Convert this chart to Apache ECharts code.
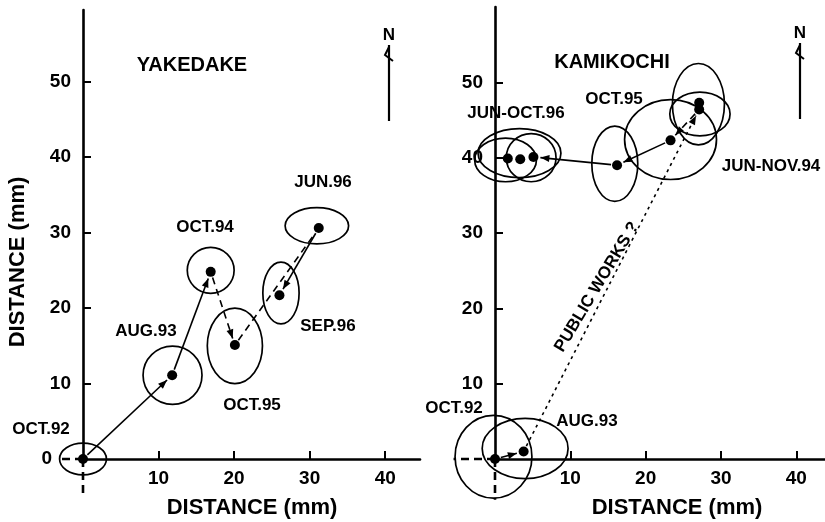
<!DOCTYPE html>
<html>
<head>
<meta charset="utf-8">
<script src="https://cdn.jsdelivr.net/npm/echarts@6/dist/echarts.min.js"></script>
</head>
<body style="margin:0">
<div id="container" style="width:825px;height:522px"></div>
<script>
// YAKEDAKE: displacement of the station (mm), east and north
var yakeNames = ['OCT.92', 'AUG.93', 'OCT.94', 'OCT.95', 'JUN.96', 'SEP.96'];
var yakePoints = [[0, 0], [11.8, 11.1], [16.9, 24.8], [20.1, 15.1], [31.2, 30.6], [26.0, 21.7]];
// error ellipses: centre x, centre y, half width, half height (mm)
var yakeEllipses = [[0, 0, 3.1, 2.1], [11.85, 11.1, 3.9, 3.85], [16.9, 25.0, 3.1, 3.05],
  [20.1, 15.0, 3.65, 5.0], [26.2, 22.0, 2.4, 4.1], [30.95, 30.9, 4.2, 2.4]];
// links between points: from, to, arrow head (1/0)
var yakeSolid = [[0, 1, 1], [1, 2, 1], [4, 5, 1]];
var yakeDashed = [[2, 3, 1], [3, 4, 0]];

// KAMIKOCHI
var kamiPoints = [[0, 0], [3.8, 1.0], [27.1, 47.3], [27.1, 46.4], [23.3, 42.3],
  [16.2, 39.0], [5.1, 40.1], [3.35, 39.8], [1.7, 39.9]];
var kamiEllipses = [[-0.2, 0.3, 5.1, 5.5], [4.0, 1.4, 5.7, 4.0], [23.3, 42.4, 6.1, 5.3],
  [27.0, 47.1, 3.45, 5.4], [27.2, 45.8, 4.0, 2.9], [15.9, 39.2, 3.05, 5.0],
  [1.4, 39.7, 4.1, 2.9], [3.25, 40.6, 5.5, 3.25], [4.8, 40.0, 3.3, 3.2]];
var kamiSolid = [[0, 1, 1], [4, 5, 1], [5, 6, 1]];
var kamiDashed = [[3, 4, 1]];
var kamiDotted = [[1, 3, 1]];

var yTicks = [0, 10, 20, 30, 40, 50];
var xTicks = [10, 20, 30, 40];

var FONT = '"Liberation Sans", Arial, sans-serif';

function linkData(points, links) {
  return links.map(function (l) {
    return [points[l[0]][0], points[l[0]][1], points[l[1]][0], points[l[1]][1], l[2]];
  });
}

function ellipseItem(params, api) {
  var cx = api.value(0), cy = api.value(1);
  var c = api.coord([cx, cy]);
  var e = api.coord([cx + api.value(2), cy + api.value(3)]);
  return {
    type: 'ellipse',
    shape: { cx: c[0], cy: c[1], rx: Math.abs(e[0] - c[0]), ry: Math.abs(e[1] - c[1]) },
    style: { fill: 'none', stroke: '#000', lineWidth: 1.7 }
  };
}

function arrowItem(dash) {
  return function (params, api) {
    var a = api.coord([api.value(0), api.value(1)]);
    var b = api.coord([api.value(2), api.value(3)]);
    var dx = b[0] - a[0], dy = b[1] - a[1];
    var len = Math.sqrt(dx * dx + dy * dy);
    var ux = dx / len, uy = dy / len;
    var s = [a[0] + ux * 6, a[1] + uy * 6];
    var e = [b[0] - ux * 7, b[1] - uy * 7];
    var kids = [{
      type: 'line',
      shape: { x1: s[0], y1: s[1], x2: e[0], y2: e[1] },
      style: { stroke: '#000', lineWidth: 1.6, lineDash: dash }
    }];
    if (api.value(4)) {
      var bx = e[0] - ux * 9, by = e[1] - uy * 9;
      kids.push({
        type: 'polygon',
        shape: { points: [[e[0], e[1]], [bx - uy * 3.5, by + ux * 3.5], [bx + uy * 3.5, by - ux * 3.5]] },
        style: { fill: '#000' }
      });
    }
    return { type: 'group', children: kids };
  };
}

function axisX(idx, max) {
  return {
    type: 'value', gridIndex: idx, min: 0, max: max,
    splitLine: { show: false },
    axisLine: { onZero: false, lineStyle: { color: '#000', width: 2.6 } },
    axisTick: { show: true, inside: true, length: 8, customValues: xTicks, lineStyle: { color: '#000', width: 2 } },
    axisLabel: { customValues: xTicks, margin: 10, color: '#000', fontSize: 19, fontWeight: 'bold', fontFamily: FONT }
  };
}

function axisY(idx, max, labels) {
  return {
    type: 'value', gridIndex: idx, min: 0, max: max,
    splitLine: { show: false },
    axisLine: { onZero: false, lineStyle: { color: '#000', width: 2.6 } },
    axisTick: { show: true, inside: true, length: 8, customValues: yTicks.slice(1), lineStyle: { color: '#000', width: 2 } },
    axisLabel: {
      customValues: labels, margin: 12, color: '#000', fontSize: 19, fontWeight: 'bold', fontFamily: FONT,
      formatter: function (v) { return v === 0 ? '{z|0}' : String(v); },
      rich: { z: { padding: [0, 19, 0, 0], color: '#000', fontSize: 19, fontWeight: 'bold', fontFamily: FONT } }
    }
  };
}

function panelSeries(idx, points, ellipses, solid, dashed, dotted) {
  var base = { coordinateSystem: 'cartesian2d', xAxisIndex: idx, yAxisIndex: idx, silent: true };
  var list = [
    Object.assign({ type: 'custom', renderItem: ellipseItem, data: ellipses, z: 2 }, base),
    Object.assign({ type: 'custom', renderItem: arrowItem(null), data: linkData(points, solid), z: 3 }, base),
    Object.assign({ type: 'custom', renderItem: arrowItem([7, 5]), data: linkData(points, dashed), z: 3 }, base)
  ];
  if (dotted) {
    list.push(Object.assign({ type: 'custom', renderItem: arrowItem([3, 4]), data: linkData(points, dotted), z: 3 }, base));
  }
  list.push(Object.assign({
    type: 'scatter', data: points, symbolSize: 10, clip: false, itemStyle: { color: '#000', opacity: 1 }, z: 4
  }, base));
  return list;
}

function txt(s, x, y, size, rot) {
  return {
    type: 'text', x: x, y: y, rotation: rot || 0, z: 10,
    style: { text: s, fill: '#000', font: 'bold ' + size + 'px ' + FONT, textAlign: 'center', textVerticalAlign: 'middle' }
  };
}

function north(x, yTop) {
  return [
    txt('N', x, yTop - 10, 17),
    { type: 'line', shape: { x1: x, y1: yTop, x2: x, y2: yTop + 76 }, style: { stroke: '#000', lineWidth: 2.2 } },
    { type: 'polyline', shape: { points: [[x, yTop + 2], [x - 4, yTop + 10], [x + 4, yTop + 16]] },
      style: { stroke: '#000', lineWidth: 2, fill: 'none' } }
  ];
}

var chart = echarts.init(document.getElementById('container'));
chart.setOption({
  backgroundColor: '#fff',
  animation: false,
  grid: [
    { left: 83, top: 10, width: 337, height: 449 },
    { left: 495, top: 7, width: 330, height: 452 }
  ],
  xAxis: [axisX(0, 44.6), axisX(1, 43.8)],
  yAxis: [axisY(0, 59.5, yTicks), axisY(1, 60, yTicks.slice(1))],
  series: panelSeries(0, yakePoints, yakeEllipses, yakeSolid, yakeDashed, null)
    .concat(panelSeries(1, kamiPoints, kamiEllipses, kamiSolid, kamiDashed, kamiDotted))
});

// axis lines carry on a little past the origin, dashed inside the first ellipse
function stub(grid, from, to) {
  var a = chart.convertToPixel({ gridIndex: grid }, from);
  var b = chart.convertToPixel({ gridIndex: grid }, to);
  return { type: 'line', shape: { x1: a[0], y1: a[1], x2: b[0], y2: b[1] },
    style: { stroke: '#000', lineWidth: 2.6, lineDash: [8, 5] } };
}

chart.setOption({
  graphic: [
    txt('YAKEDAKE', 192, 65, 20),
    txt('KAMIKOCHI', 612, 62, 20),
    txt('DISTANCE (mm)', 252, 508, 22),
    txt('DISTANCE (mm)', 677, 508, 22),
    txt('DISTANCE (mm)', 18, 262, 22, Math.PI / 2),
    txt(yakeNames[0], 41, 429, 17),
    txt(yakeNames[1], 146, 331, 17),
    txt(yakeNames[2], 205, 227, 17),
    txt(yakeNames[3], 252, 405, 17),
    txt(yakeNames[4], 323, 182, 17),
    txt(yakeNames[5], 328, 326, 17),
    txt('JUN-OCT.96', 516, 113, 17),
    txt('OCT.95', 614, 99, 17),
    txt('JUN-NOV.94', 771, 166, 17),
    txt('OCT.92', 454, 408, 17),
    txt('AUG.93', 587, 421, 17),
    txt('PUBLIC WORKS ?', 597, 287, 17, 59 * Math.PI / 180),
    stub(0, [0, 0], [0, -4.5]),
    stub(0, [0, 0], [-2.8, 0]),
    stub(1, [0, 0], [0, -5.4]),
    stub(1, [0, 0], [-5.5, 0])
  ].concat(north(389, 45), north(800, 43))
});
window.addEventListener('resize', chart.resize);
</script>
</body>
</html>
